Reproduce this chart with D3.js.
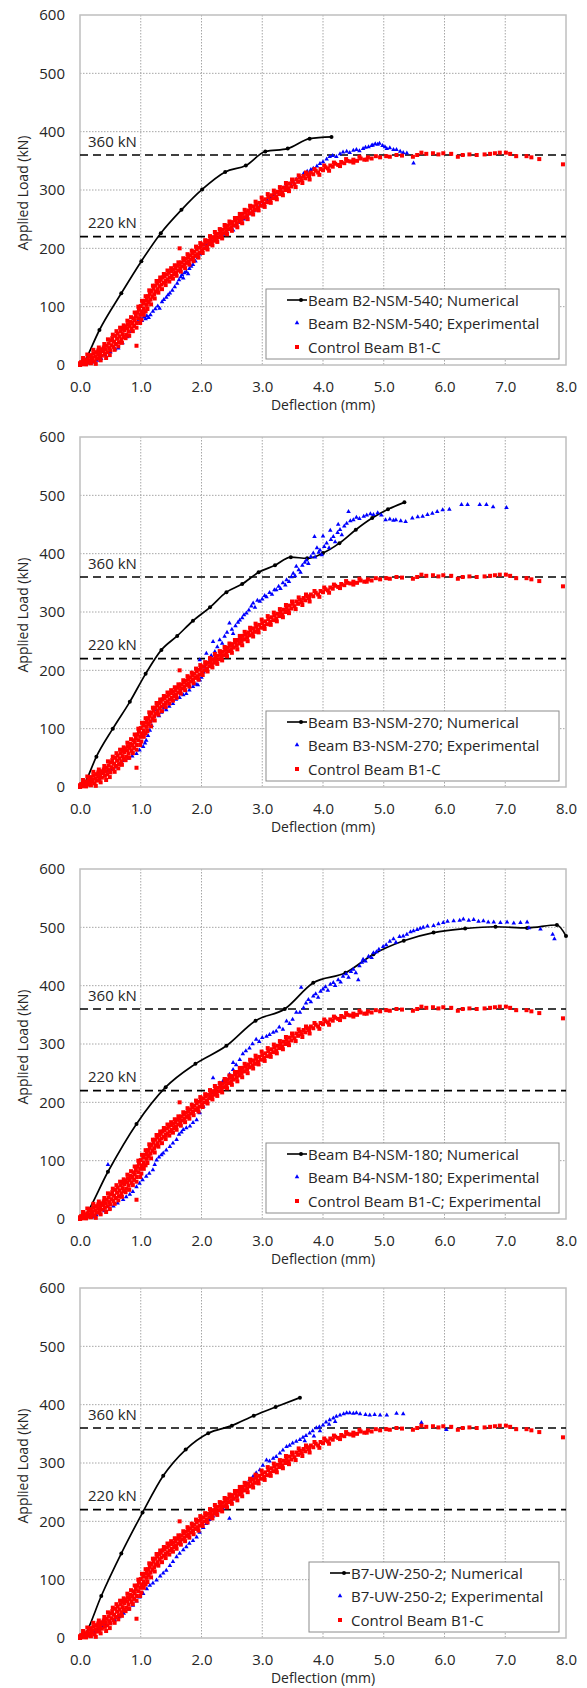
<!DOCTYPE html>
<html>
<head>
<meta charset="utf-8">
<script src="https://cdn.jsdelivr.net/npm/d3@7"></script>
<style>
  body { margin: 0; background: #fff; }
  svg text { font-family: 'Open Sans', sans-serif; fill: #262626; }
</style>
</head>
<body>
<svg id="chart" width="587" height="1688"></svg>
<script>
// axis ticks and reference loads
const xTicks = [0, 1, 2, 3, 4, 5, 6, 7, 8]
const yTicks = [0, 100, 200, 300, 400, 500, 600]
const refLoads = [360, 220]

// control beam B1-C, experimental (same test shown in every panel)
const controlB1C = [
  [0.0, 0], [0.0, 3], [0.02, 5], [0.03, 1], [0.05, 7], [0.06, 2], [0.08, 4], [0.1, 8], [0.1, 1],
  [0.12, 10], [0.13, 4], [0.15, 14], [0.16, 7], [0.18, 17], [0.19, 9], [0.21, 12], [0.22, 20], [0.24, 6], [0.25, 15], [0.27, 22], [0.28, 11], [0.3, 18], [0.3, 25],
  [0.32, 13], [0.33, 21], [0.35, 27], [0.36, 16], [0.38, 24], [0.39, 30], [0.41, 19], [0.42, 27], [0.44, 33], [0.45, 22], [0.47, 37], [0.48, 29], [0.5, 42], [0.5, 25],
  [0.52, 34], [0.53, 46], [0.55, 31], [0.56, 40], [0.58, 50], [0.59, 36], [0.61, 45], [0.62, 54], [0.64, 39], [0.65, 49], [0.67, 58], [0.68, 44], [0.7, 53], [0.7, 62],
  [0.72, 48], [0.73, 60], [0.75, 66], [0.76, 52], [0.78, 63], [0.79, 70], [0.8, 57], [0.82, 67], [0.83, 74], [0.85, 62], [0.86, 72], [0.88, 80], [0.89, 67], [0.9, 77],
  [0.92, 84], [0.93, 72], [0.95, 90], [0.96, 80], [0.97, 95], [0.99, 86], [1.0, 101], [1.01, 78], [1.02, 92], [1.04, 105], [1.05, 97], [1.07, 110], [1.08, 92], [1.1, 114], [1.1, 103],
  [1.12, 118], [1.13, 108], [1.15, 122], [1.16, 112], [1.18, 127], [1.19, 117], [1.21, 131], [1.22, 121], [1.24, 136], [1.25, 126], [1.27, 140], [1.28, 130], [1.3, 144],
  [1.31, 135], [1.33, 146], [1.34, 138], [1.36, 150], [1.38, 141], [1.39, 152], [1.41, 144], [1.43, 155], [1.44, 147], [1.46, 158], [1.48, 150], [1.5, 161],
  [1.51, 153], [1.53, 163], [1.55, 156], [1.57, 166], [1.58, 159], [1.6, 170], [1.62, 162], [1.64, 172], [1.65, 166], [1.67, 176], [1.69, 169],
  [1.71, 179], [1.72, 172], [1.74, 182], [1.76, 175], [1.78, 185], [1.79, 178], [1.81, 188], [1.83, 181], [1.85, 191], [1.86, 184], [1.88, 194],
  [1.9, 187], [1.92, 198], [1.94, 190], [1.96, 201], [1.97, 193], [1.99, 204], [2.01, 197], [2.03, 207], [2.05, 200], [2.07, 210], [2.09, 203],
  [2.11, 213], [2.13, 207], [2.15, 216], [2.17, 210], [2.19, 219], [2.21, 213], [2.23, 222], [2.25, 216], [2.27, 225], [2.29, 219],
  [2.31, 228], [2.33, 222], [2.35, 232], [2.37, 226], [2.39, 235], [2.41, 229], [2.43, 239], [2.45, 233], [2.47, 242], [2.49, 236],
  [2.51, 245], [2.53, 239], [2.56, 248], [2.58, 242], [2.6, 252], [2.62, 246], [2.64, 255], [2.66, 249], [2.68, 259],
  [2.7, 253], [2.73, 262], [2.75, 256], [2.77, 265], [2.79, 260], [2.81, 269], [2.84, 263], [2.86, 272], [2.88, 266],
  [2.9, 275], [2.93, 270], [2.95, 278], [2.98, 273], [3.0, 281], [3.03, 276], [3.05, 284], [3.08, 279], [3.1, 288],
  [3.13, 283], [3.15, 291], [3.18, 286], [3.2, 294], [3.23, 289], [3.25, 297], [3.28, 293], [3.3, 300],
  [3.33, 296], [3.35, 304], [3.38, 300], [3.4, 307], [3.43, 303], [3.45, 311], [3.48, 306], [3.5, 314],
  [3.53, 310], [3.56, 318], [3.59, 314], [3.62, 321], [3.65, 317], [3.68, 324], [3.71, 320], [3.74, 327], [3.77, 324], [3.8, 330],
  [3.84, 327], [3.88, 333], [3.92, 330], [3.96, 336], [4.0, 334], [4.04, 339], [4.08, 337], [4.12, 342], [4.16, 340], [4.2, 345],
  [4.25, 343], [4.3, 348], [4.35, 346], [4.4, 350], [4.45, 349], [4.5, 352], [4.56, 350], [4.62, 354], [4.68, 352], [4.74, 356], [4.8, 354], [4.87, 358], [4.94, 356],
  [5.04, 358], [5.1, 357], [5.21, 360], [5.3, 359], [5.48, 357], [5.55, 360], [5.62, 364], [5.7, 362], [5.81, 363], [5.9, 361], [5.98, 363],
  [6.11, 362], [6.22, 357], [6.3, 360], [6.41, 361], [6.53, 360], [6.66, 361], [6.75, 362], [6.83, 363], [6.91, 364], [7.01, 364], [7.08, 362],
  [7.18, 358], [7.35, 358], [7.43, 356], [7.56, 353], [7.95, 344],
  [0.93, 33], [1.64, 200],
  // readings scattered towards the edges of the band
  [0.05, 12], [0.12, 18], [0.18, 3], [0.22, 26], [0.26, 2], [0.31, 30], [0.34, 8], [0.4, 36], [0.43, 12], [0.46, 44],
  [0.49, 17], [0.54, 52], [0.57, 26], [0.6, 58], [0.63, 32], [0.66, 64], [0.69, 38], [0.72, 68], [0.75, 46], [0.78, 76],
  [0.81, 50], [0.84, 82], [0.87, 58], [0.9, 90], [0.93, 64], [0.96, 100], [0.99, 72], [1.02, 110], [1.05, 86], [1.08, 118],
  [1.11, 96], [1.14, 128], [1.17, 104], [1.2, 136], [1.23, 114], [1.26, 144], [1.29, 124], [1.32, 150], [1.35, 130], [1.38, 156],
  [1.41, 137], [1.44, 162], [1.47, 143], [1.5, 166], [1.53, 148], [1.56, 171], [1.59, 153], [1.62, 176], [1.66, 160], [1.7, 183],
  [1.73, 166], [1.77, 190], [1.8, 172], [1.84, 196], [1.87, 178], [1.91, 203], [1.95, 184], [1.98, 209], [2.02, 192], [2.06, 214],
  [2.1, 198], [2.14, 221], [2.18, 205], [2.22, 228], [2.26, 211], [2.3, 233], [2.34, 217], [2.38, 240], [2.42, 224], [2.46, 246],
  [2.5, 230], [2.55, 252], [2.59, 236], [2.63, 259], [2.67, 243], [2.71, 266], [2.76, 250], [2.8, 273], [2.85, 258], [2.89, 280],
  [2.94, 265], [2.99, 287], [3.04, 271], [3.09, 293], [3.14, 278], [3.19, 299], [3.24, 284], [3.29, 305], [3.34, 291], [3.39, 312],
  [3.44, 298], [3.49, 318], [3.55, 305], [3.6, 325], [3.66, 312], [3.72, 330], [3.78, 318], [3.86, 336], [3.94, 326], [4.02, 342],
  [4.1, 333], [4.18, 347], [4.28, 341], [4.38, 353], [4.5, 347], [4.6, 357], [4.72, 352]
]

// beam B2-NSM-540
const b2Numerical = [
  [0.06, 2], [0.08, 6], [0.32, 60], [0.68, 123], [1.01, 178], [1.33, 226], [1.67, 266], [2.01, 301],
  [2.39, 331], [2.73, 342], [3.05, 366], [3.42, 371], [3.78, 388], [4.14, 391]
]
const b2Experimental = [
  [0.08, 1], [0.13, 3], [0.2, 5], [0.28, 8], [0.35, 11], [0.42, 17], [0.5, 22], [0.58, 27], [0.63, 29], [0.7, 38],
  [0.78, 48], [0.85, 57], [0.9, 66], [0.95, 74], [0.98, 78], [1.0, 80], [1.02, 76], [1.05, 82], [1.08, 79], [1.1, 84],
  [1.13, 81], [1.16, 86], [1.2, 92], [1.24, 96], [1.28, 101], [1.31, 97], [1.35, 108], [1.38, 112], [1.42, 116], [1.45, 120],
  [1.48, 123], [1.52, 128], [1.56, 134], [1.6, 140], [1.63, 146], [1.66, 151], [1.68, 155], [1.7, 149], [1.72, 158], [1.75, 160],
  [1.78, 156], [1.8, 165], [1.83, 169], [1.86, 172], [1.9, 178], [1.94, 184], [1.97, 190], [2.0, 194], [2.04, 200], [2.08, 206],
  [2.12, 209], [2.16, 212], [2.2, 214], [2.24, 216], [2.3, 220], [2.36, 224], [2.42, 228], [2.48, 232], [2.52, 231], [2.58, 238],
  [2.64, 244], [2.7, 250], [2.74, 254], [2.8, 259], [2.86, 264], [2.92, 270], [2.96, 273], [3.02, 278], [3.08, 283], [3.14, 288],
  [3.18, 291], [3.24, 296], [3.3, 300], [3.36, 304], [3.4, 306], [3.46, 311], [3.51, 314], [3.56, 318], [3.62, 323], [3.68, 328],
  [3.74, 332], [3.8, 335], [3.84, 337], [3.9, 341], [3.95, 345], [4.0, 348], [4.06, 353], [4.11, 357], [4.16, 359], [4.22, 357],
  [4.28, 362], [4.33, 365], [4.39, 366], [4.44, 364], [4.5, 368], [4.55, 369], [4.6, 367], [4.66, 371], [4.7, 373], [4.75, 374],
  [4.8, 376], [4.82, 377], [4.86, 379], [4.9, 378], [4.93, 380], [4.98, 376], [5.02, 374], [5.05, 371], [5.1, 372], [5.16, 369],
  [5.21, 369], [5.27, 366], [5.32, 364], [5.38, 363], [5.49, 346]
]

// beam B3-NSM-270
const b3Numerical = [
  [0.06, 2], [0.08, 6], [0.27, 52], [0.54, 100], [0.82, 146], [1.08, 194], [1.34, 235], [1.6, 259], [1.86, 285],
  [2.14, 308], [2.41, 334], [2.67, 348], [2.94, 368], [3.21, 380], [3.47, 394], [3.74, 392], [4.0, 401],
  [4.27, 418], [4.54, 441], [4.81, 461], [5.07, 476], [5.34, 488]
]
const b3Experimental = [
  [0.1, 4], [0.16, 9], [0.24, 14], [0.32, 19], [0.38, 23], [0.45, 27], [0.52, 30], [0.6, 34], [0.66, 40], [0.72, 45],
  [0.79, 49], [0.86, 53], [0.93, 57], [0.98, 63], [1.04, 69], [1.07, 75], [1.09, 80], [1.12, 88], [1.15, 97], [1.18, 105],
  [1.22, 114], [1.26, 132], [1.3, 122], [1.34, 128], [1.38, 135], [1.42, 132], [1.47, 138], [1.53, 143], [1.58, 150], [1.64, 153],
  [1.7, 158], [1.75, 160], [1.8, 166], [1.86, 172], [1.91, 176], [1.94, 175], [1.97, 183], [1.97, 218], [2.0, 188], [2.03, 197],
  [2.06, 205], [2.08, 229], [2.12, 214], [2.16, 225], [2.19, 249], [2.22, 232], [2.26, 240], [2.3, 252], [2.34, 246], [2.38, 258],
  [2.42, 265], [2.46, 281], [2.5, 270], [2.52, 263], [2.56, 276], [2.6, 282], [2.63, 286], [2.67, 290], [2.7, 295], [2.74, 298],
  [2.78, 303], [2.82, 310], [2.85, 315], [2.88, 308], [2.92, 320], [2.96, 318], [3.0, 322], [3.04, 328], [3.07, 326], [3.12, 333],
  [3.16, 330], [3.2, 338], [3.23, 338], [3.27, 344], [3.3, 340], [3.34, 350], [3.38, 346], [3.4, 355], [3.44, 352], [3.48, 360],
  [3.51, 366], [3.54, 362], [3.56, 378], [3.6, 372], [3.63, 368], [3.66, 380], [3.7, 385], [3.73, 389], [3.76, 383], [3.8, 395],
  [3.84, 401], [3.86, 429], [3.87, 394], [3.9, 410], [3.93, 402], [3.95, 406], [3.98, 398], [4.0, 430], [4.02, 412], [4.06, 418],
  [4.1, 410], [4.12, 440], [4.13, 424], [4.17, 429], [4.2, 420], [4.24, 436], [4.25, 450], [4.28, 441], [4.31, 432], [4.35, 447],
  [4.39, 452], [4.42, 472], [4.45, 456], [4.5, 458], [4.55, 462], [4.6, 460], [4.67, 464], [4.72, 466], [4.78, 468], [4.83, 467],
  [4.9, 470], [4.96, 466], [5.03, 458], [5.1, 459], [5.16, 457], [5.2, 458], [5.28, 456], [5.36, 455], [5.47, 461], [5.56, 463],
  [5.64, 464], [5.72, 467], [5.8, 469], [5.88, 472], [5.97, 475], [6.08, 476], [6.28, 484], [6.38, 484], [6.58, 484], [6.69, 484],
  [6.8, 480], [7.02, 479]
]

// beam B4-NSM-180
const b4Numerical = [
  [0.06, 1], [0.08, 4], [0.46, 81], [0.93, 163], [1.41, 226], [1.9, 266], [2.41, 297], [2.89, 340], [3.37, 360],
  [3.84, 405], [4.37, 422], [4.83, 454], [5.33, 477], [5.82, 491], [6.34, 498], [6.84, 501], [7.36, 499], [7.85, 504], [8.0, 485]
]
const b4Experimental = [
  [0.2, 3], [0.27, 7], [0.33, 10], [0.4, 14], [0.46, 93], [0.49, 18], [0.55, 22], [0.62, 27], [0.71, 33], [0.76, 38], [0.82, 42],
  [0.87, 47], [0.93, 55], [0.98, 61], [1.03, 67], [1.09, 73], [1.14, 78], [1.2, 84], [1.23, 93], [1.26, 101], [1.3, 106],
  [1.34, 110], [1.37, 113], [1.42, 118], [1.48, 124], [1.53, 130], [1.59, 136], [1.63, 145], [1.67, 149], [1.7, 153], [1.75, 156],
  [1.81, 159], [1.86, 165], [1.92, 170], [1.97, 182], [2.03, 193], [2.08, 200], [2.13, 208], [2.19, 216], [2.19, 242], [2.24, 225],
  [2.3, 233], [2.35, 236], [2.41, 239], [2.46, 248], [2.52, 256], [2.52, 268], [2.57, 264], [2.63, 273], [2.68, 283], [2.73, 288],
  [2.79, 293], [2.84, 300], [2.9, 308], [2.95, 304], [3.0, 311], [3.07, 313], [3.12, 316], [3.18, 320], [3.23, 322], [3.28, 329],
  [3.34, 325], [3.4, 339], [3.45, 335], [3.5, 342], [3.56, 354], [3.62, 354], [3.64, 397], [3.68, 362], [3.72, 370], [3.76, 376],
  [3.8, 372], [3.84, 382], [3.88, 386], [3.92, 380], [3.96, 390], [4.0, 394], [4.04, 398], [4.08, 392], [4.12, 402], [4.17, 405],
  [4.2, 400], [4.25, 410], [4.29, 406], [4.33, 416], [4.38, 420], [4.42, 414], [4.46, 424], [4.5, 428], [4.54, 422], [4.58, 410],
  [4.6, 434], [4.64, 440], [4.66, 445], [4.7, 442], [4.75, 450], [4.8, 448], [4.83, 456], [4.88, 458], [4.92, 462], [4.99, 467],
  [5.04, 470], [5.1, 476], [5.16, 480], [5.2, 474], [5.26, 484], [5.32, 485], [5.38, 488], [5.44, 492], [5.49, 494], [5.55, 496],
  [5.6, 498], [5.65, 500], [5.72, 502], [5.82, 503], [5.9, 506], [5.98, 508], [6.05, 510], [6.15, 511], [6.25, 512], [6.31, 514],
  [6.4, 512], [6.48, 513], [6.56, 510], [6.64, 511], [6.72, 509], [6.81, 509], [6.92, 508], [7.03, 509], [7.14, 507], [7.25, 508],
  [7.36, 509], [7.39, 499], [7.58, 497], [7.78, 488], [7.81, 480]
]

// beam B7-UW-250-2
const b7Numerical = [
  [0.06, 2], [0.08, 5], [0.35, 72], [0.68, 145], [1.03, 215], [1.37, 278], [1.74, 323], [2.11, 351],
  [2.5, 364], [2.86, 381], [3.22, 396], [3.62, 412]
]
const b7Experimental = [
  [0.1, 3], [0.16, 7], [0.24, 11], [0.3, 15], [0.37, 19], [0.43, 22], [0.5, 27], [0.57, 31], [0.65, 36], [0.72, 42],
  [0.8, 49], [0.87, 56], [0.93, 63], [0.98, 70], [1.04, 76], [1.1, 84], [1.15, 90], [1.2, 94], [1.26, 99], [1.32, 106],
  [1.37, 111], [1.42, 116], [1.48, 124], [1.53, 131], [1.59, 139], [1.64, 145], [1.7, 151], [1.75, 156], [1.8, 162], [1.86, 167],
  [1.92, 173], [1.97, 181], [2.03, 189], [2.08, 196], [2.13, 203], [2.19, 209], [2.24, 214], [2.3, 218], [2.35, 222], [2.41, 225],
  [2.46, 205], [2.47, 232], [2.52, 238], [2.58, 243], [2.63, 248], [2.68, 257], [2.74, 264], [2.79, 271], [2.85, 277], [2.9, 283],
  [2.96, 288], [3.01, 296], [3.07, 305], [3.12, 303], [3.18, 308], [3.23, 311], [3.29, 317], [3.34, 322], [3.4, 328], [3.45, 330],
  [3.5, 334], [3.56, 337], [3.62, 340], [3.67, 344], [3.7, 338], [3.72, 347], [3.78, 351], [3.83, 355], [3.85, 346], [3.89, 360],
  [3.94, 362], [3.95, 355], [4.0, 365], [4.05, 370], [4.1, 366], [4.11, 374], [4.17, 377], [4.2, 371], [4.22, 380], [4.28, 382],
  [4.34, 384], [4.39, 386], [4.44, 386], [4.5, 385], [4.55, 386], [4.61, 384], [4.7, 383], [4.77, 382], [4.85, 383], [4.94, 382],
  [5.05, 382], [5.21, 385], [5.32, 384], [5.62, 369], [6.03, 357]
]

// one entry per panel: data, legend labels and where the panel sits
const panels = [
  { top: 15, numerical: b2Numerical, experimental: b2Experimental, legendLeft: 266,
    labels: ['Beam B2-NSM-540; Numerical', 'Beam B2-NSM-540; Experimental', 'Control Beam B1-C'] },
  { top: 437, numerical: b3Numerical, experimental: b3Experimental, legendLeft: 266,
    labels: ['Beam B3-NSM-270; Numerical', 'Beam B3-NSM-270; Experimental', 'Control Beam B1-C'] },
  { top: 869, numerical: b4Numerical, experimental: b4Experimental, legendLeft: 266,
    labels: ['Beam B4-NSM-180; Numerical', 'Beam B4-NSM-180; Experimental', 'Control Beam B1-C; Experimental'] },
  { top: 1288, numerical: b7Numerical, experimental: b7Experimental, legendLeft: 309,
    labels: ['B7-UW-250-2; Numerical', 'B7-UW-250-2; Experimental', 'Control Beam B1-C'] }
]

const left = 80
const width = 486
const height = 350
const legendRight = 559

const svg = d3.select('#chart')
const triangle = d3.symbol().type(d3.symbolTriangle).size(9)

const xScale = d3.scaleLinear().domain([0, 8]).range([0, width])
const yScale = d3.scaleLinear().domain([0, 600]).range([height, 0])

/**
 * Draws one load-deflection panel.
 *
 * @param {object} panel The panel settings and data
 */
function drawPanel (panel) {
  const g = svg.append('g').attr('transform', `translate(${left},${panel.top})`)

  // dotted grid
  g.append('g')
    .selectAll('line')
    .data(xTicks.slice(1, -1))
    .join('line')
    .attr('x1', (d) => xScale(d)).attr('x2', (d) => xScale(d))
    .attr('y1', 0).attr('y2', height)
    .attr('stroke', '#a6a6a6').attr('stroke-dasharray', '1.5,1.5')
  g.append('g')
    .selectAll('line')
    .data(yTicks.slice(1, -1))
    .join('line')
    .attr('y1', (d) => yScale(d)).attr('y2', (d) => yScale(d))
    .attr('x1', 0).attr('x2', width)
    .attr('stroke', '#a6a6a6').attr('stroke-dasharray', '1.5,1.5')

  // axes, only for their labels
  const xAxis = g.append('g')
    .attr('transform', `translate(0,${height})`)
    .call(d3.axisBottom(xScale).tickValues(xTicks).tickFormat(d3.format('.1f')).tickSize(0).tickPadding(16))
  const yAxis = g.append('g')
    .call(d3.axisLeft(yScale).tickValues(yTicks).tickSize(0).tickPadding(15))
  for (const axis of [xAxis, yAxis]) {
    axis.select('.domain').remove()
    axis.selectAll('.tick text')
      .style('font-family', "'Open Sans', sans-serif")
      .style('font-size', '15px')
      .attr('fill', '#262626')
  }

  // plot border
  g.append('rect')
    .attr('width', width).attr('height', height)
    .attr('fill', 'none').attr('stroke', '#bfbfbf').attr('stroke-width', 1.5)

  // 360 kN and 220 kN reference lines
  g.append('g')
    .selectAll('line')
    .data(refLoads)
    .join('line')
    .attr('x1', 0).attr('x2', width)
    .attr('y1', (d) => yScale(d)).attr('y2', (d) => yScale(d))
    .attr('stroke', '#000').attr('stroke-width', 1.6).attr('stroke-dasharray', '8,5')
  g.append('g')
    .selectAll('text')
    .data(refLoads)
    .join('text')
    .attr('x', 8)
    .attr('y', (d) => yScale(d) - 8.5)
    .style('font-size', '15px')
    .text((d) => `${d} kN`)

  // numerical curve
  const line = d3.line()
    .x((d) => xScale(d[0]))
    .y((d) => yScale(d[1]))
    .curve(d3.curveMonotoneX)
  g.append('path')
    .datum(panel.numerical)
    .attr('d', line)
    .attr('fill', 'none').attr('stroke', '#000').attr('stroke-width', 1.7)
  g.append('g')
    .selectAll('circle')
    .data(panel.numerical.slice(1))
    .join('circle')
    .attr('cx', (d) => xScale(d[0])).attr('cy', (d) => yScale(d[1]))
    .attr('r', 2).attr('fill', '#000')

  // experimental points
  g.append('g')
    .selectAll('path')
    .data(panel.experimental)
    .join('path')
    .attr('d', triangle)
    .attr('transform', (d) => `translate(${xScale(d[0])},${yScale(d[1])})`)
    .attr('fill', '#0000ff')

  // control beam points
  g.append('g')
    .selectAll('rect')
    .data(controlB1C)
    .join('rect')
    .attr('x', (d) => xScale(d[0]) - 2).attr('y', (d) => yScale(d[1]) - 2)
    .attr('width', 4).attr('height', 4)
    .attr('fill', '#ff0000')

  // axis titles
  g.append('text')
    .attr('x', width / 2).attr('y', height + 45)
    .attr('text-anchor', 'middle')
    .style('font-size', '14px')
    .text('Deflection (mm)')
  g.append('text')
    .attr('transform', `translate(${28 - left},${height / 2 + 3}) rotate(-90)`)
    .attr('text-anchor', 'middle')
    .style('font-size', '14px')
    .text('Applied Load (kN)')

  // legend
  const lx = panel.legendLeft - left
  const ly = height - 76
  const legend = g.append('g').attr('transform', `translate(${lx},${ly})`)
  legend.append('rect')
    .attr('width', legendRight - panel.legendLeft).attr('height', 70)
    .attr('fill', '#fff').attr('stroke', '#8c8c8c').attr('stroke-width', 1)
  const rows = [11, 34, 58]
  legend.append('line')
    .attr('x1', 21).attr('x2', 41).attr('y1', rows[0]).attr('y2', rows[0])
    .attr('stroke', '#000').attr('stroke-width', 1.6)
  legend.append('circle').attr('cx', 35).attr('cy', rows[0]).attr('r', 2).attr('fill', '#000')
  legend.append('path')
    .attr('d', triangle)
    .attr('transform', `translate(31,${rows[1]})`)
    .attr('fill', '#0000ff')
  legend.append('rect')
    .attr('x', 29).attr('y', rows[2] - 2).attr('width', 4).attr('height', 4)
    .attr('fill', '#ff0000')
  legend.selectAll('text.label')
    .data(panel.labels)
    .join('text')
    .attr('class', 'label')
    .attr('x', 42)
    .attr('y', (d, i) => rows[i] + 5.5)
    .style('font-size', '15px')
    .text((d) => d)
}

panels.forEach(drawPanel)
</script>
</body>
</html>
